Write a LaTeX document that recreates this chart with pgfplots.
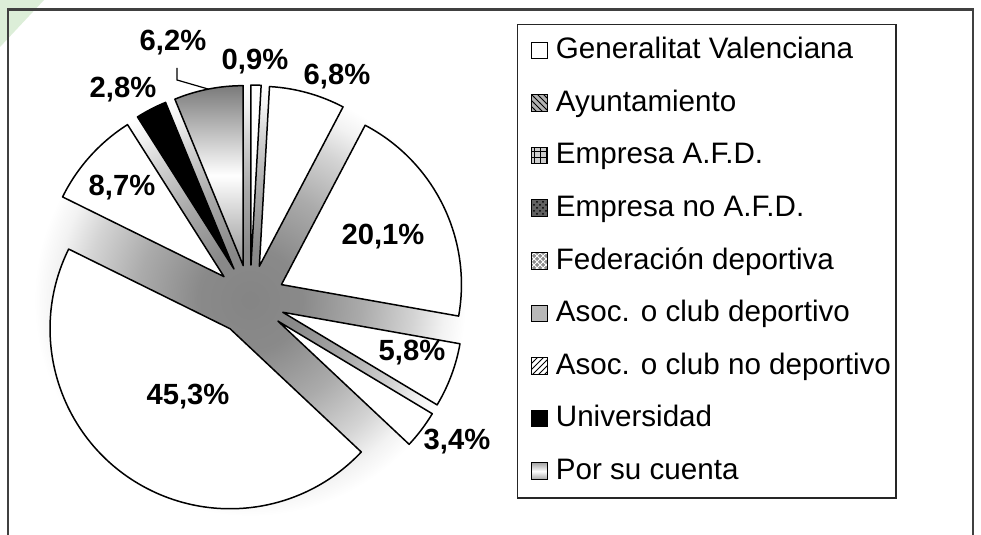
\documentclass[border=0pt]{standalone}
\usepackage{pgfplots}
\pgfplotsset{compat=1.18}
\usepackage{pgfplotstable}
\usepackage{fontspec}
\setmainfont{Liberation Sans}
\usetikzlibrary{patterns}

\definecolor{wm}{RGB}{220,238,216}
\pgfdeclareradialshading{pieshadow}{\pgfpoint{0bp}{0bp}}{color(0bp)=(black!48); color(6bp)=(black!46); color(13bp)=(black!33); color(19bp)=(black!17); color(22.5bp)=(black!5); color(25bp)=(white); color(50bp)=(white)}

% value = percentage; lx, ly = label position (pixel units of the chart)
\pgfplotstableread{
key     value  lx   ly
Gen     0.9    255  473
Ayu     6.8    337  458
EAFD    20.1   383  298
ENAFD   5.8    412  182
Fed     3.4    457  93
AsocD   45.3   188  138
AsocND  8.7    122  347
Univ    2.8    123  445
Cuenta  6.2    173  492
}\piedata

\def\cx{250}\def\cy{235}\def\ex{35}\def\R{90pt}

\tikzset{
 slice0/.style={fill=white},
 slice1/.style={fill=white},
 slice2/.style={fill=white},
 slice3/.style={fill=white},
 slice4/.style={fill=white},
 slice5/.style={fill=white},
 slice6/.style={fill=white},
 slice7/.style={fill=black},
 slice8/.style={top color=black!52, bottom color=black!42, middle color=white},
}

\begin{document}
\begin{tikzpicture}
\pgfplotstablegetrowsof{\piedata}
\pgfmathtruncatemacro\N{\pgfplotsretval-1}
\gdef\cum{0}
\pgfplotsforeachungrouped \i in {0,...,\N}{%
  \pgfplotstablegetelem{\i}{value}\of\piedata \let\v\pgfplotsretval
  \pgfmathsetmacro\aS{90-3.6*\cum}%
  \pgfmathsetmacro\newcum{\cum+\v}%
  \pgfmathsetmacro\aE{90-3.6*\newcum}%
  \pgfmathsetmacro\aM{(\aS+\aE)/2}%
  \pgfmathsetmacro\tx{\cx+\ex*cos(\aM)}%
  \pgfmathsetmacro\ty{\cy+\ex*sin(\aM)}%
  \expandafter\xdef\csname aS\i\endcsname{\aS}%
  \expandafter\xdef\csname aE\i\endcsname{\aE}%
  \expandafter\xdef\csname tx\i\endcsname{\tx}%
  \expandafter\xdef\csname ty\i\endcsname{\ty}%
  \expandafter\xdef\csname val\i\endcsname{\v}%
  \pgfplotstablegetelem{\i}{lx}\of\piedata \expandafter\xdef\csname lx\i\endcsname{\pgfplotsretval}%
  \pgfplotstablegetelem{\i}{ly}\of\piedata \expandafter\xdef\csname ly\i\endcsname{\pgfplotsretval}%
  \xdef\cum{\newcum}%
}
\begin{axis}[
  x=0.5pt, y=0.5pt, xmin=0, xmax=981, ymin=0, ymax=535,
  hide axis, scale only axis, clip=true,
  legend cell align=left,
  legend image code/.code={\path (0pt,0pt); \draw[#1, line width=0.5pt] (4pt,0pt) rectangle (12pt,8.3pt);},
  legend style={at={(axis cs:517,511)}, anchor=north west, draw=black!85, line width=0.7pt,
    inner xsep=2.5pt, inner ysep=6pt, row sep=12pt, column sep=4pt,
    font=\fontsize{14.8}{17}\selectfont,
    cells={anchor=base west},
    nodes={inner sep=0pt, text height=11pt, text depth=3.3pt}},
]
\fill[white] (axis cs:0,0) rectangle (axis cs:981,535);
\fill[wm] (axis cs:0,535) -- (axis cs:44,535) -- (axis cs:0,488) -- cycle;
\draw[line width=1.1pt, black!75] (axis cs:8,-10) |- (axis cs:973,525.5) -- (axis cs:973,-10);

\shade[shading=pieshadow] (axis cs:\cx,\cy) circle[radius=108pt];

\pgfplotsinvokeforeach{0,...,8}{
  \filldraw[draw=black, line width=0.75pt, line join=round, slice#1]
    (axis cs:\csname tx#1\endcsname,\csname ty#1\endcsname)
    -- ++(\csname aE#1\endcsname:\R)
    arc[start angle=\csname aE#1\endcsname, end angle=\csname aS#1\endcsname, radius=\R]
    -- cycle;
  \node[font=\bfseries\fontsize{14.6}{17}\selectfont, inner sep=0pt]
    at (axis cs:\csname lx#1\endcsname,\csname ly#1\endcsname)
    {\pgfmathprintnumber[fixed,fixed zerofill,precision=1,use comma,assume math mode=true]{\csname val#1\endcsname}\%};
}

% leader line of the 6,2 % label
\addplot[black, line width=0.6pt, forget plot] coordinates {(177,467) (177,455) (208,446)};

\addlegendimage{fill=white, draw=black}
\addlegendentry{Generalitat Valenciana}
\addlegendimage{fill=black!30, draw=black, postaction={pattern=north west lines}}
\addlegendentry{Ayuntamiento}
\addlegendimage{fill=black!20, draw=black, postaction={pattern=grid}}
\addlegendentry{Empresa A.F.D.}
\addlegendimage{fill=black!62, draw=black, postaction={pattern=crosshatch dots}}
\addlegendentry{Empresa no A.F.D.}
\addlegendimage{fill=black!45, draw=black, postaction={pattern=crosshatch, pattern color=white}}
\addlegendentry{Federación deportiva}
\addlegendimage{fill=black!28, draw=black}
\addlegendentry{Asoc. o club deportivo}
\addlegendimage{fill=white, draw=black, postaction={pattern=north east lines}}
\addlegendentry{Asoc. o club no deportivo}
\addlegendimage{fill=black, draw=black}
\addlegendentry{Universidad}
\addlegendimage{draw=black, top color=black!35, bottom color=black!35, middle color=white}
\addlegendentry{Por su cuenta}
\end{axis}
\end{tikzpicture}
\end{document}
